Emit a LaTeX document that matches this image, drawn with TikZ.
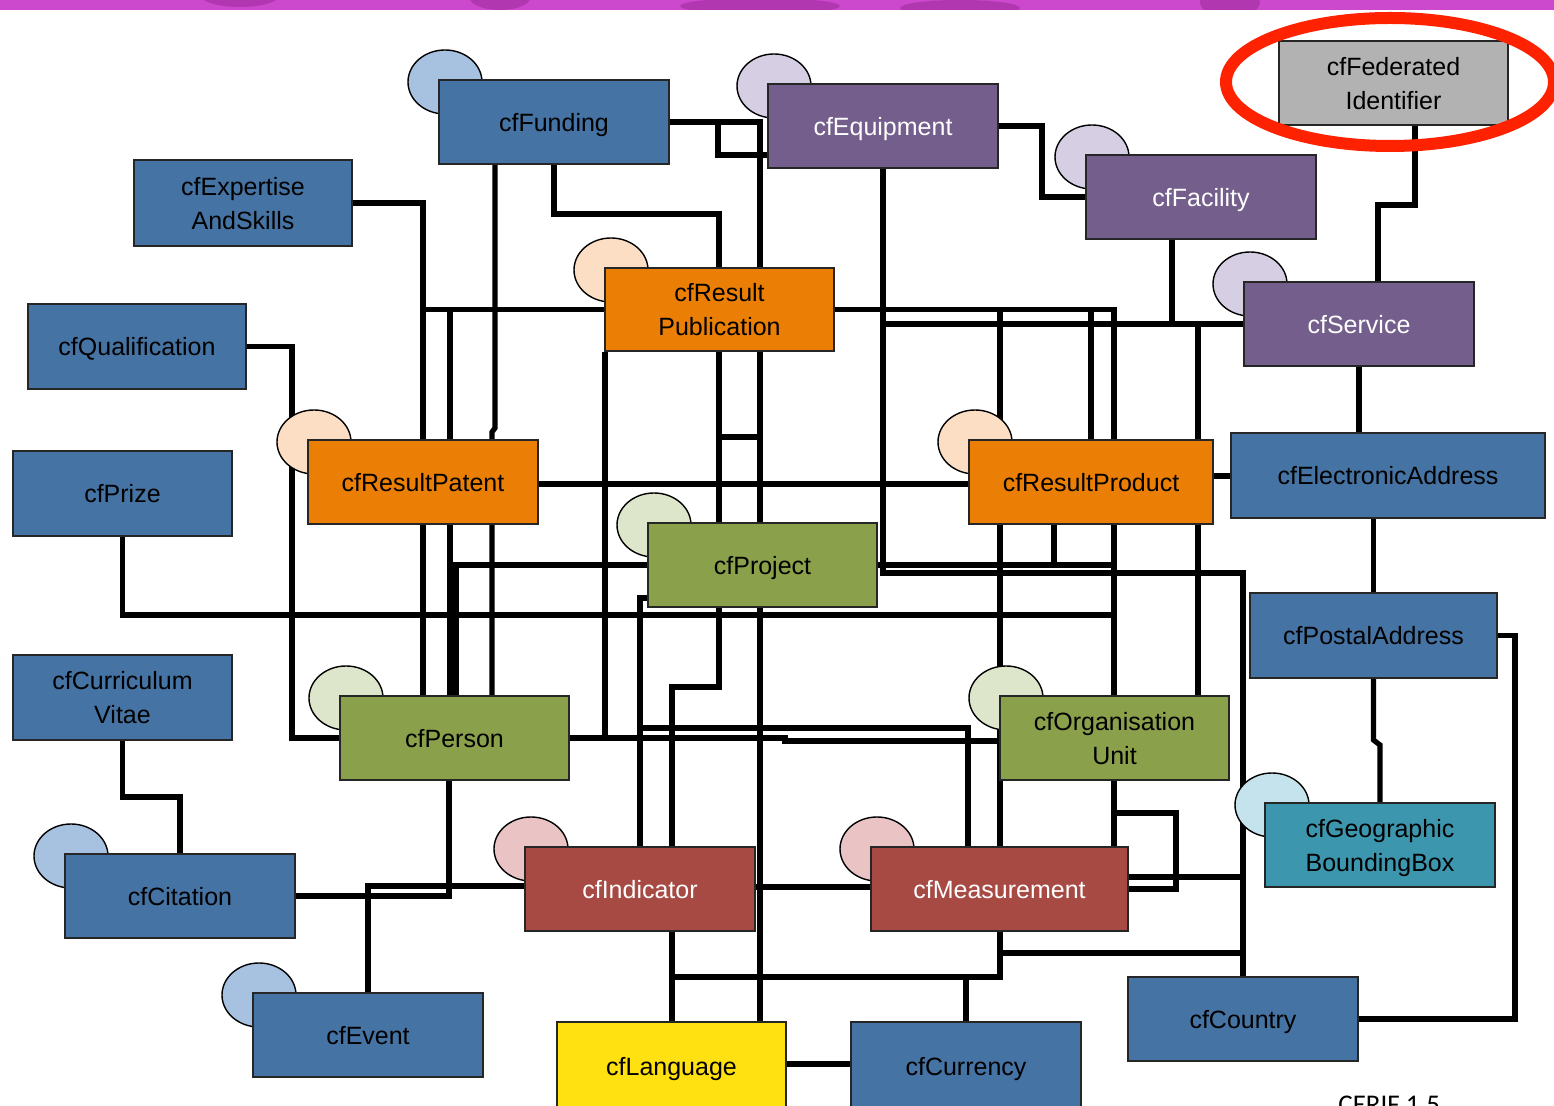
\documentclass[tikz,border=0pt]{standalone}
\usepackage{fontspec}
\setmainfont{Liberation Sans}
\newfontfamily\calibfont{Carlito}
\definecolor{cfblue}{RGB}{69,115,163}
\definecolor{cfpurple}{RGB}{116,94,140}
\definecolor{cforange}{RGB}{235,127,5}
\definecolor{cfgreen}{RGB}{138,160,74}
\definecolor{cfred}{RGB}{167,74,68}
\definecolor{cfteal}{RGB}{60,150,174}
\definecolor{cfyellow}{RGB}{255,224,16}
\definecolor{cfgrey}{RGB}{178,178,178}
\definecolor{elblue}{RGB}{167,193,224}
\definecolor{elpurple}{RGB}{214,206,226}
\definecolor{elpeach}{RGB}{252,222,196}
\definecolor{elgreen}{RGB}{221,230,202}
\definecolor{elpink}{RGB}{234,196,196}
\definecolor{elteal}{RGB}{197,227,236}
\definecolor{bandmag}{RGB}{204,72,204}
\definecolor{banddark}{RGB}{150,40,150}
\definecolor{ringred}{RGB}{255,34,0}
\pgfdeclarelayer{bg}
\pgfdeclarelayer{mid}
\pgfsetlayers{bg,mid,main}
\begin{document}
\begin{tikzpicture}[x=0.5pt,y=-0.5pt,
  ent/.style={draw=black!85, line width=0.8pt, inner sep=0pt, align=center,
    minimum width=115pt, minimum height=42pt, text depth=-1.4pt,
    font=\fontsize{12.5}{17}\selectfont},
  wtxt/.style={text=white},
  con/.style={draw=black, line width=2.6pt, line join=miter},
  blob/.style={draw=black, line width=0.7pt}]
\useasboundingbox (0,0) rectangle (1554,1106);

% entities
\node[ent, fill=cfblue, minimum width=115pt] (fund) at (554,122) {cfFunding};
\node[ent, fill=cfpurple, wtxt] (equip) at (883,126) {cfEquipment};
\node[ent, fill=cfgrey, minimum width=114.5pt] (fedid) at (1393.5,83) {cfFederated\\Identifier};
\node[ent, fill=cfblue, minimum width=109pt, minimum height=43pt] (expert) at (243,203) {cfExpertise\\AndSkills};
\node[ent, fill=cfpurple, wtxt] (facil) at (1201,197) {cfFacility};
\node[ent, fill=cforange, minimum width=114.5pt, minimum height=41.5pt] (rpub) at (719.5,309.5) {cfResult\\Publication};
\node[ent, fill=cfpurple, wtxt] (serv) at (1359,324) {cfService};
\node[ent, fill=cfblue, minimum width=109pt, minimum height=42.5pt] (qual) at (137,346.5) {cfQualification};
\node[ent, fill=cforange] (rpat) at (423,482) {cfResultPatent};
\node[ent, fill=cfblue, minimum width=109.5pt, minimum height=42.5pt] (prize) at (122.5,493.5) {cfPrize};
\node[ent, fill=cforange, minimum width=122pt] (rprod) at (1091,482) {cfResultProduct};
\node[ent, fill=cfblue, minimum width=157pt, minimum height=42.5pt] (eaddr) at (1388,475.5) {cfElectronicAddress};
\node[ent, fill=cfgreen, minimum width=114.5pt] (proj) at (762.5,565) {cfProject};
\node[ent, fill=cfblue, minimum width=123.5pt, minimum height=42.5pt] (paddr) at (1373.5,635.5) {cfPostalAddress};
\node[ent, fill=cfblue, minimum width=109.5pt, minimum height=42.5pt] (cv) at (122.5,697.5) {cfCurriculum\\Vitae};
\node[ent, fill=cfgreen, minimum width=114.5pt] (pers) at (454.5,738) {cfPerson};
\node[ent, fill=cfgreen, minimum width=114.5pt] (org) at (1114.5,738) {cfOrganisation\\Unit};
\node[ent, fill=cfteal] (geo) at (1380,845) {cfGeographic\\BoundingBox};
\node[ent, fill=cfblue] (cit) at (180,896) {cfCitation};
\node[ent, fill=cfred, wtxt] (ind) at (640,889) {cfIndicator};
\node[ent, fill=cfred, wtxt, minimum width=128.5pt] (meas) at (999.5,889) {cfMeasurement};
\node[ent, fill=cfblue] (event) at (368,1035) {cfEvent};
\node[ent, fill=cfblue] (country) at (1243,1019) {cfCountry};
\node[ent, fill=cfyellow, minimum width=114.5pt, minimum height=44pt] (lang) at (671.5,1066) {cfLanguage};
\node[ent, fill=cfblue, minimum height=44pt] (curr) at (966,1066) {cfCurrency};

\node[font=\calibfont\fontsize{13.5}{16}\selectfont, anchor=base west, inner sep=0pt] (cerif) at (1338,1113) {CERIF 1.5};

% red ring
\draw[ringred, line width=6pt] (1390,82) ellipse [x radius=82pt, y radius=32pt];

% ellipses behind entities
\begin{pgfonlayer}{mid}
\filldraw[blob, fill=elblue] (445,82) ellipse [x radius=18.5pt, y radius=16pt];
\filldraw[blob, fill=elpurple] (774,86) ellipse [x radius=18.5pt, y radius=16pt];
\filldraw[blob, fill=elpurple] (1092,157) ellipse [x radius=18.5pt, y radius=16pt];
\filldraw[blob, fill=elpeach] (611,270) ellipse [x radius=18.5pt, y radius=16pt];
\filldraw[blob, fill=elpurple] (1250,284) ellipse [x radius=18.5pt, y radius=16pt];
\filldraw[blob, fill=elpeach] (314,442) ellipse [x radius=18.5pt, y radius=16pt];
\filldraw[blob, fill=elpeach] (975,442) ellipse [x radius=18.5pt, y radius=16pt];
\filldraw[blob, fill=elgreen] (654,525) ellipse [x radius=18.5pt, y radius=16pt];
\filldraw[blob, fill=elgreen] (346,698) ellipse [x radius=18.5pt, y radius=16pt];
\filldraw[blob, fill=elgreen] (1006,698) ellipse [x radius=18.5pt, y radius=16pt];
\filldraw[blob, fill=elteal] (1272,805) ellipse [x radius=18.5pt, y radius=16pt];
\filldraw[blob, fill=elblue] (71,856) ellipse [x radius=18.5pt, y radius=16pt];
\filldraw[blob, fill=elpink] (531,849) ellipse [x radius=18.5pt, y radius=16pt];
\filldraw[blob, fill=elpink] (877,849) ellipse [x radius=18.5pt, y radius=16pt];
\filldraw[blob, fill=elblue] (259,995) ellipse [x radius=18.5pt, y radius=16pt];
\end{pgfonlayer}

% background and connectors
\begin{pgfonlayer}{bg}
\fill[white] (0,0) rectangle (1554,1106);
\begin{scope}
\clip (0,0) rectangle (1554,10);
\fill[bandmag] (0,0) rectangle (1554,10);
\fill[banddark,opacity=0.5] (240,-5) ellipse [x radius=20pt, y radius=6pt];
\fill[banddark,opacity=0.5] (500,-2) ellipse [x radius=15pt, y radius=6pt];
\fill[banddark,opacity=0.5] (760,6) ellipse [x radius=40pt, y radius=4pt];
\fill[banddark,opacity=0.5] (960,8) ellipse [x radius=30pt, y radius=4pt];
\fill[banddark,opacity=0.5] (1230,2) ellipse [x radius=15pt, y radius=8pt];
\end{scope}
\draw[con] (fund.east) -- (760,122) -- (760,0 |- lang.north);
\coordinate (jA) at (718,122);
\draw[con] (jA) -- (718,155) -- (718,155 -| equip.west);
\draw[con] (fund.south) -- (554,214) -- (719,214) -- (719,687) -- (672,687) -- (672,0 |- lang.north);
\coordinate (jB) at (719,437);
\draw[con] (jB) -- (760,437);
\draw[con] (495,0 |- fund.south) -- (495,428) -- (492,432) -- (492,0 |- pers.north);
\draw[con] (expert.east) -- (423,203) -- (423,0 |- pers.north);
\draw[con] (rpub.west) -- (423,309.5);
\coordinate (jC) at (450,309.5);
\draw[con] (jC) -- (450,0 |- pers.north);
\draw[con] (proj.west) -- (456,565) -- (456,0 |- pers.north);
\draw[con] (qual.east) -- (292,346.5) -- (292,738) -- (pers.west);
\draw[con] (prize.south) -- (122.5,615) -- (1114,615);
\draw[con] (rpub.east) -- (1114,309.5) -- (1114,0 |- meas.north);
\coordinate (jD) at (1114,813);
\draw[con] (jD) -- (1176,813) -- (1176,889) -- (1176,889 -| meas.east);
\coordinate (jE) at (1000,309.5);
\draw[con] (jE) -- (1000,977) -- (672,977);
\coordinate (jF) at (1091,309.5);
\draw[con] (jF) -- (1091,0 |- rprod.north);
\draw[con] (equip.south) -- (883,573) -- (1243,573) -- (country.north);
\coordinate (jG) at (883,324);
\draw[con] (jG) -- (serv.west);
\draw[con] (1172,0 |- facil.south) -- (1172,324);
\coordinate (jH) at (1198,324);
\draw[con] (jH) -- (1198,0 |- org.north);
\draw[con] (rpat.east |- 0,484) -- (rprod.west |- 0,484);
\draw[con] (proj.east) -- (1114,565);
\draw[con] (1054,0 |- rprod.south) -- (1054,565);
\draw[con] (605,0 |- rpub.south) -- (605,738);
\draw[con] (pers.east) -- (785,738) -- (785,741) -- (785,741 -| org.west);
\draw[con] (proj.west |- 0,598) -- (640,598) -- (640,0 |- ind.north);
\coordinate (jI) at (640,728);
\draw[con] (jI) -- (968,728) -- (968,0 |- meas.north);
\draw[con, line width=3.4pt] (ind.east |- 0,887) -- (meas.west |- 0,887);
\draw[con] (meas.east |- 0,877) -- (1243,877);
\coordinate (jJ) at (1000,953);
\draw[con] (jJ) -- (1243,953);
\draw[con] (curr.north) -- (966,977);
\draw[con] (lang.east |- 0,1064) -- (curr.west |- 0,1064);
\draw[con] (cit.east) -- (449,896) -- (449,0 |- pers.south);
\draw[con] (event.north) -- (368,886) -- (368,886 -| ind.west);
\draw[con] (cv.south) -- (122.5,797) -- (180,797) -- (cit.north);
\draw[con] (1415,0 |- fedid.south) -- (1415,205) -- (1378,205) -- (1378,0 |- serv.north);
\draw[con] (equip.east) -- (1042,126) -- (1042,197) -- (facil.west);
\draw[con] (serv.south) -- (serv.south |- eaddr.north);
\draw[con] (rprod.east |- 0,476) -- (eaddr.west |- 0,476);
\draw[con] (1373.5,0 |- eaddr.south) -- (paddr.north);
\draw[con] (paddr.south) -- (1373.5,740) -- (1380,745) -- (geo.north);
\draw[con] (paddr.east) -- (1515,635.5) -- (1515,1019) -- (country.east);
\end{pgfonlayer}
\end{tikzpicture}
\end{document}
